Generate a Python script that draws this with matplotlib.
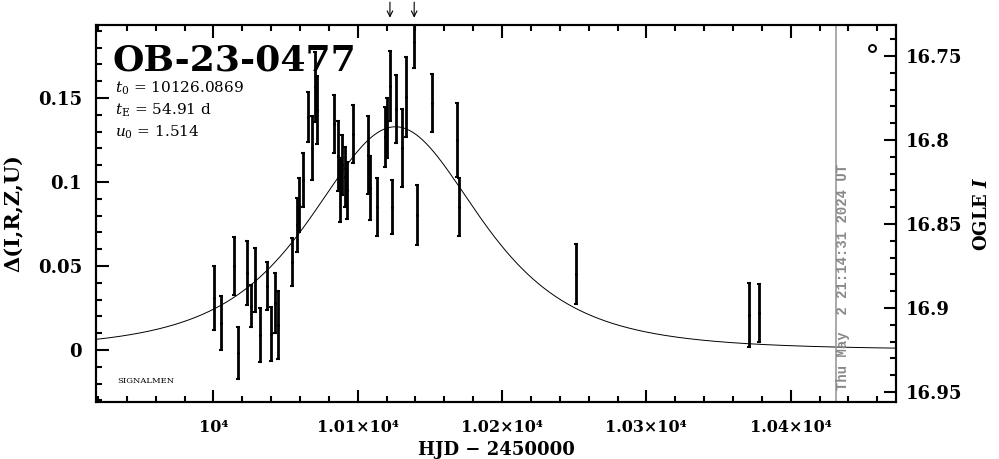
import numpy as np
import matplotlib.pyplot as plt
from matplotlib.ticker import MultipleLocator, FixedLocator, FixedFormatter

plt.rcParams['mathtext.fontset'] = 'dejavuserif'

# данные OGLE: HJD-2450000, Δ, ошибка
t_hjd = [10000.3, 10005.4, 10014.2, 10017.2, 10023.2, 10026.0, 10029.0, 10032.2,
         10037.1, 10040.1, 10042.4, 10044.9, 10054.4, 10058.0, 10059.4, 10062.2,
         10065.8, 10068.6, 10070.3, 10071.7, 10083.5, 10086.5, 10087.7, 10089.3,
         10091.1, 10092.7, 10096.9, 10107.3, 10108.5, 10113.5, 10118.8, 10120.0,
         10122.3, 10123.5, 10126.5, 10130.4, 10133.2, 10139.1, 10140.8, 10151.2,
         10168.9, 10170.3, 10251.2, 10371.0, 10378.2]
delta = [0.0310, 0.0161, 0.0500, -0.0018, 0.0458, 0.0262, 0.0417, 0.0089,
         0.0381, 0.0095, 0.0280, 0.0149, 0.0524, 0.0744, 0.0863, 0.1012,
         0.1387, 0.1202, 0.1565, 0.1429, 0.1345, 0.1155, 0.0952, 0.1101,
         0.1030, 0.0952, 0.1286, 0.1161, 0.0964, 0.0851, 0.1268, 0.1321,
         0.1571, 0.0851, 0.1435, 0.1202, 0.1506, 0.1833, 0.0804, 0.1470,
         0.1250, 0.0851, 0.0452, 0.0208, 0.0220]
delta_err = [0.019, 0.016, 0.017, 0.0155, 0.019, 0.0125, 0.019, 0.016,
             0.0143, 0.016, 0.018, 0.020, 0.0143, 0.016, 0.016, 0.016,
             0.015, 0.019, 0.021, 0.020, 0.017, 0.021, 0.019, 0.018,
             0.018, 0.017, 0.017, 0.023, 0.019, 0.017, 0.018, 0.018,
             0.021, 0.016, 0.020, 0.023, 0.024, 0.0155, 0.018, 0.017,
             0.022, 0.017, 0.018, 0.019, 0.017]

# параметры модели
t0 = 10126.0869
tE = 54.91
u0 = 1.514
mag_base = 16.925

arrow_t = [10122.3, 10139.1]     # стрелки сверху
now_t = 10431.6                  # текущая дата
now_label = 'Thu May  2 21:14:31 2024 UT'
ogle_symbol = (10456.7, 0.1798)

xticks = [10000, 10100, 10200, 10300, 10400]
xticklabels = ['10⁴', '1.01×10⁴', '1.02×10⁴', '1.03×10⁴', '1.04×10⁴']
yticks = [0, 0.05, 0.1, 0.15]
yticklabels = ['0', '0.05', '0.1', '0.15']
magticks = [16.75, 16.8, 16.85, 16.9, 16.95]
magticklabels = ['16.75', '16.8', '16.85', '16.9', '16.95']

# кривая Пачинского
tt = np.linspace(9900, 10500, 1200)
u = np.sqrt(u0**2 + ((tt - t0) / tE)**2)
A = (u**2 + 2) / (u * np.sqrt(u**2 + 4))
model = 2.5 * np.log10(A)

fig = plt.figure(figsize=(9.99, 4.59), dpi=100)
ax = fig.add_axes([0.0961, 0.1242, 0.8008, 0.8213])

ax.plot(tt, model, color='black', lw=0.7)
ax.errorbar(t_hjd, delta, yerr=delta_err, fmt='.', color='black', ms=2.5,
            elinewidth=2, capsize=1.5, capthick=1.5)
ax.plot(*ogle_symbol, 'o', mfc='none', mec='black', ms=5, mew=1.4)

ax.axvline(now_t, color='#999999', lw=1.2)
ax.text(now_t + 4.5, -0.0238, now_label, rotation=90, ha='center', va='bottom',
        color='#888888', family='Liberation Mono', weight='bold', fontsize=10)

for t in arrow_t:
    ax.annotate('', xy=(t, 1.012), xytext=(t, 1.068),
                xycoords=('data', 'axes fraction'),
                arrowprops=dict(arrowstyle='->', color='black', lw=0.8),
                annotation_clip=False)

ax.set_xlim(9918.6, 10473.0)
ax.set_ylim(-0.03095, 0.19345)

# оформление
tick_font = dict(family='DejaVu Serif', weight='bold', size=13)
ax.xaxis.set_major_locator(FixedLocator(xticks))
ax.xaxis.set_major_formatter(FixedFormatter(xticklabels))
ax.xaxis.set_minor_locator(MultipleLocator(20))
ax.yaxis.set_major_locator(FixedLocator(yticks))
ax.yaxis.set_major_formatter(FixedFormatter(yticklabels))
ax.yaxis.set_minor_locator(MultipleLocator(0.01))
ax.tick_params(which='both', direction='in', width=1.5,
               left=True, right=False, top=True, bottom=True)
ax.tick_params(which='major', length=9)
ax.tick_params(which='minor', length=4.5)
ax.tick_params(axis='x', pad=12)
ax.tick_params(axis='y', pad=10)
for lab in ax.get_yticklabels():
    lab.set(**tick_font)
for lab in ax.get_xticklabels():
    lab.set(family='DejaVu Serif', weight='bold', size=11.5)
for sp in ax.spines.values():
    sp.set_linewidth(1.5)

# правая ось: звёздная величина OGLE I
lo, hi = ax.get_ylim()
mx = ax.twinx()
mx.set_ylim(mag_base - lo, mag_base - hi)
mx.yaxis.set_major_locator(FixedLocator(magticks))
mx.yaxis.set_major_formatter(FixedFormatter(magticklabels))
mx.yaxis.set_minor_locator(MultipleLocator(0.01))
mx.tick_params(which='both', direction='in', width=1.5, pad=7,
               left=False, right=True, top=False, bottom=False)
mx.tick_params(which='major', length=9)
mx.tick_params(which='minor', length=4.5)
for lab in mx.get_yticklabels():
    lab.set(**tick_font)
mx.set_ylabel('OGLE $\\mathbfit{I}$', family='DejaVu Serif', weight='bold',
              fontsize=13, rotation=90, labelpad=8)
for sp in mx.spines.values():
    sp.set_linewidth(1.5)

ax.set_xlabel('HJD − 2450000', family='DejaVu Serif', weight='bold', fontsize=13)
ax.set_ylabel('Δ(I,R,Z,U)', family='DejaVu Serif', weight='bold', fontsize=15,
              labelpad=10)

ax.text(0.021, 0.88, 'OB-23-0477', transform=ax.transAxes, family='DejaVu Serif',
        weight='bold', fontsize=26, va='baseline')
params = [r'$t_0$ = 10126.0869', r'$t_{\rm E}$ = 54.91 d', r'$u_0$ = 1.514']
for i, s in enumerate(params):
    ax.text(0.024, 0.82 - i * 0.058, s, transform=ax.transAxes,
            family='DejaVu Serif', fontsize=11, va='baseline')
ax.text(0.026, 0.055, 'SIGNALMEN', transform=ax.transAxes, family='DejaVu Serif',
        fontsize=6, va='center')

plt.savefig('out.png', dpi=100)
